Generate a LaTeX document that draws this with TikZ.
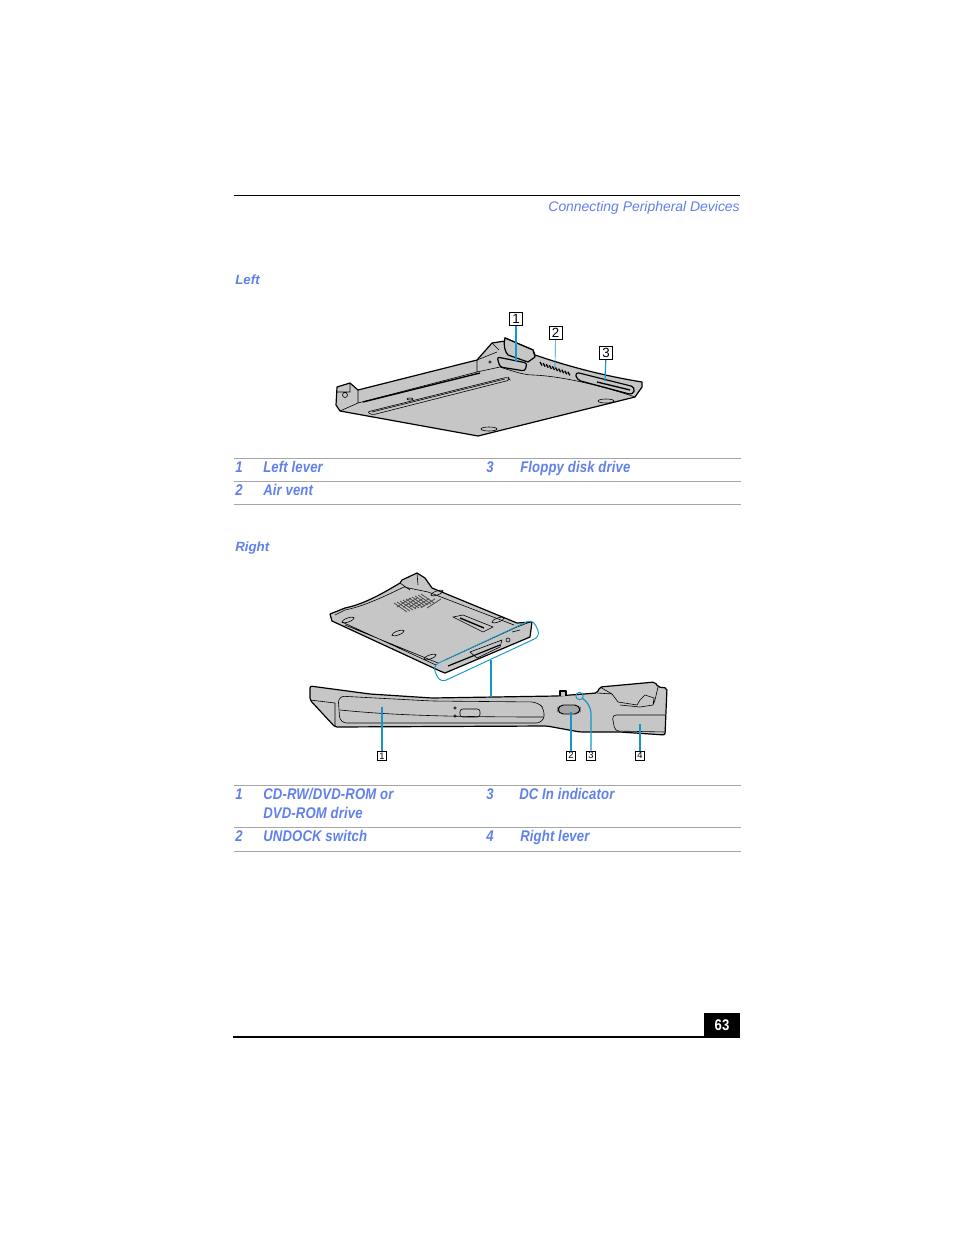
\documentclass[tikz,border=0pt]{standalone}
\usepackage{fontspec}
\setmainfont{Liberation Sans}
\newfontfamily\narrowfont[FakeStretch=0.85,LetterSpace=0.9]{Liberation Sans}
\usetikzlibrary{positioning}
\definecolor{linkblue}{RGB}{96,128,235}
\definecolor{leadblue}{RGB}{20,150,200}
\definecolor{bodygray}{RGB}{198,198,198}
\tikzset{
  itemtext/.style = {anchor = base west, inner sep = 0, text = linkblue, font = \narrowfont\bfseries\itshape\fontsize{11.6}{13}\selectfont},
  headtext/.style = {anchor = base west, inner sep = 0, text = linkblue, font = \bfseries\itshape\fontsize{10}{12}\selectfont},
  callout/.style = {draw, line width = 0.5pt, fill = white, inner sep = 0, minimum width = 10pt, minimum height = 10pt, font = \fontsize{10}{10}\selectfont},
  smallcallout/.style = {callout, minimum width = 7pt, minimum height = 7pt, font = \fontsize{7}{7}\selectfont},
  leader/.style = {leadblue, line width = 0.9pt},
  body/.style = {draw, line width = 0.9pt, line join = round, fill = bodygray},
  detail/.style = {line width = 0.45pt}
}
\begin{document}
\begin{tikzpicture}[x = 0.75pt, y = -0.75pt]
  \useasboundingbox [fill = white] (0,0) rectangle (954,1235);

  % page furniture
  \draw [line width = 0.7pt] (234,195.5) -- (740,195.5);
  \node [anchor = base east, inner sep = 0, text = linkblue, font = \itshape\fontsize{10.45}{13}\selectfont] (header) at (740,211) {Connecting Peripheral Devices};
  \node [headtext] (lefthead) at (235,284) {Left};
  \node [headtext] (righthead) at (235,551) {Right};
  \foreach \y in {458.5,481.5,504.5,785.5,827.5,851.5}
    \draw [gray!70, line width = 0.6pt] (234,\y) -- (741,\y);
  \draw [line width = 1.3pt] (233,1037) -- (740,1037);
  \node [fill = black, text = white, inner sep = 0, minimum width = 27pt, minimum height = 17.5pt, font = \narrowfont\bfseries\fontsize{11.6}{13}\selectfont] (pagenum) at (722,1025) {63};

  % left view
  \draw [body] (337,387) -- (350,383) -- (358,390) -- (477,360) -- (492,343) -- (505,341) -- (505,338)
    -- (533,350) -- (535,355) .. controls (570,367) and (605,376) .. (642,382)
    -- (642,387) -- (635,397) -- (478,436) -- (340,411) -- (336,405) -- cycle;
  \draw [detail] (358,390) -- (358,403) -- (477,372) -- (500,367) (477,360) -- (477,372) (345,395) circle (2.5)
    (337,392) -- (350,392) -- (350,383) (340,411) -- (358,403)
    (533,375) .. controls (560,376) and (600,385) .. (635,397) (500,367) .. controls (515,372) and (525,375) .. (533,375)
    (477,360) -- (497,352) (492,343) -- (499,350) (490,362) circle (1.2);
  \draw [line width = 1pt] (363,402) -- (480,373);
  \draw [detail, rounded corners = 2pt] (367,412) -- (508,377) -- (510,380) -- (372,415) -- cycle;
  \draw [detail] (372,412) -- (505,379);
  \draw [detail] (489,429) ellipse (8 and 2) (606,401) ellipse (8 and 2);
  \draw [detail] (410,399) ellipse (3 and 1);
  \draw [body] (505,338) .. controls (503,345) and (505,352) .. (508,355) -- (528,362) -- (535,357) -- (533,350) -- cycle;
  \draw [body, rounded corners = 2pt] (497,357) -- (527,363) -- (525,371) -- (500,367) -- cycle;
  \foreach \i in {0,...,9}
    \draw [line width = 1pt] ({540+\i*3.1},{362+\i*1.1}) -- ++(2,3.5);
  \draw [body, rounded corners = 3pt] (575,372) -- (635,387) -- (633,395) -- (577,380) -- cycle;
  \draw [line width = 1pt] (597,382) -- (630,390);
  \node [callout] (leftone) at (516,319) {1};
  \node [callout] (lefttwo) at (555.5,333) {2};
  \node [callout] (leftthree) at (606,353) {3};
  \coordinate (leverleft) at (516,362);
  \coordinate (ventleft) at (555,368);
  \coordinate (floppyleft) at (605,381);
  \draw [leader] (leftone) -- (leverleft);
  \draw [leader, line width = 0.5pt] (lefttwo) -- (ventleft);
  \draw [leader] (leftthree) -- (floppyleft);

  % left table
  \node [itemtext] (ln1) at (235,472) {1};
  \node [itemtext] (lt1) at (263,472) {Left lever};
  \node [itemtext] (ln3) at (486,472) {3};
  \node [itemtext] (lt3) at (520,472) {Floppy disk drive};
  \node [itemtext] (ln2) at (235,495) {2};
  \node [itemtext] (lt2) at (263,495) {Air vent};

  % right view, upper
  \draw [body] (330,614) -- (345,608) .. controls (365,604) and (385,592) .. (400,583) -- (402,580) -- (417,573) -- (425,578) -- (432,588)
    -- (517,623) -- (532,622) -- (530,637) -- (445,673) -- (440,671) -- (332,621) -- cycle;
  \draw [detail] (335,615) -- (345,610) .. controls (365,606) and (385,596) .. (404,587) -- (428,592) -- (514,625)
    (345,625) -- (438,663) (342,622) -- (436,665) (400,583) -- (410,590) (417,573) -- (418,585);
  \foreach \i in {0,...,9}
    \draw [gray!60!black, line width = 0.6pt] ({394+\i*3},{603-\i*1}) -- ++(13,9);
  \foreach \i in {0,...,5}
    \draw [gray!60!black, line width = 0.6pt] ({397+\i*6},{607+\i*0.2}) -- ++(14,-9);
  \draw [detail] (453,617) -- (463,615) -- (493,627) -- (483,632) -- cycle;
  \draw [line width = 1pt] (460,618) -- (484,628);
  \foreach \cx/\cy in {348/620,398/633,430/657,437/593,498/620}
    \draw [detail, rotate around = {20:(\cx,\cy)}] (\cx,\cy) ellipse (6.5 and 2);
  \draw [detail] (445,660) -- (517,627) -- (530,622);
  \draw [line width = 0.9pt] (448,666) -- (500,645);
  \draw [detail] (470,652) -- (502,640) -- (500,647) -- (477,658) -- cycle (508,640) circle (2) (512,632) -- (520,630);
  \node [draw = leadblue, line width = 0.7pt, rounded corners = 5pt, inner sep = 0, minimum width = 83pt, minimum height = 14pt, rotate = 25] (capsule) at (486.5,651) {};
  \coordinate (bridgetop) at (491,660);

  % right view, lower
  \draw [body, rounded corners = 1.5pt] (310,686) -- (370,694) -- (432,698) -- (557,696) -- (597,693) -- (600,687) -- (655,682) -- (658,687)
    -- (667,688) -- (665,735) -- (620,732) -- (580,732) -- (547,726) -- (335,727) -- (310,700) -- cycle;
  \draw [detail] (310,700) -- (335,703) -- (335,727) (597,693) -- (612,694) -- (618,702)
    (618,702) -- (637,705) -- (640,700) -- (645,695) -- (654,698) -- (653,705) -- (640,707) -- (620,705)
    (600,687) -- (612,694) (658,687) -- (655,700) -- (653,705);
  \draw [detail, rounded corners = 5pt] (340,723) -- (338,696) -- (432,701) -- (538,702) -- (545,710) -- (543,723) -- cycle;
  \draw [detail] (340,710) .. controls (380,714) and (430,717) .. (543,717);
  \draw [detail, rounded corners = 2pt] (460,709) rectangle (480,717);
  \draw [detail] (455,708) circle (1.2) (455,716) circle (1.2);
  \draw [line width = 0.7pt, fill = gray!70, rounded corners = 4pt] (558,705) rectangle (580,714);
  \draw [body] (560,696) -- (560,691) -- (566,691) -- (566,696);
  \draw [detail, rounded corners = 3pt] (665,715) -- (612,715) -- (615,731) -- (665,732);
  \node [circle, draw = leadblue, line width = 0.7pt, inner sep = 0, minimum width = 5.5pt] (dcled) at (579.5,696) {};
  \coordinate (drivespot) at (382,707);
  \coordinate (switchspot) at (571,712);
  \coordinate (leverspot) at (640,724);
  \coordinate (bridgebottom) at (491,697);
  \node [smallcallout] (rightone) at (382,756) {1};
  \node [smallcallout] (righttwo) at (571,755.5) {2};
  \node [smallcallout] (rightthree) at (591,755.5) {3};
  \node [smallcallout] (rightfour) at (640,755.5) {4};
  \draw [leader] (bridgetop) -- (bridgebottom);
  \draw [leader] (rightone) -- (drivespot);
  \draw [leader] (righttwo) -- (switchspot);
  \draw [leader] (rightfour) -- (leverspot);
  \draw [leader] (rightthree) -- (591,715) .. controls (591,706) and (587,702) .. (dcled);

  % right table
  \node [itemtext] (rn1) at (235,799) {1};
  \node [itemtext] (rt1) at (263,799) {CD-RW/DVD-ROM or};
  \node [itemtext] (rt1b) at (263,818) {DVD-ROM drive};
  \node [itemtext] (rn3) at (486,799) {3};
  \node [itemtext] (rt3) at (519,799) {DC In indicator};
  \node [itemtext] (rn2) at (235,841) {2};
  \node [itemtext] (rt2) at (263,841) {UNDOCK switch};
  \node [itemtext] (rn4) at (486,841) {4};
  \node [itemtext] (rt4) at (520,841) {Right lever};
\end{tikzpicture}
\end{document}
